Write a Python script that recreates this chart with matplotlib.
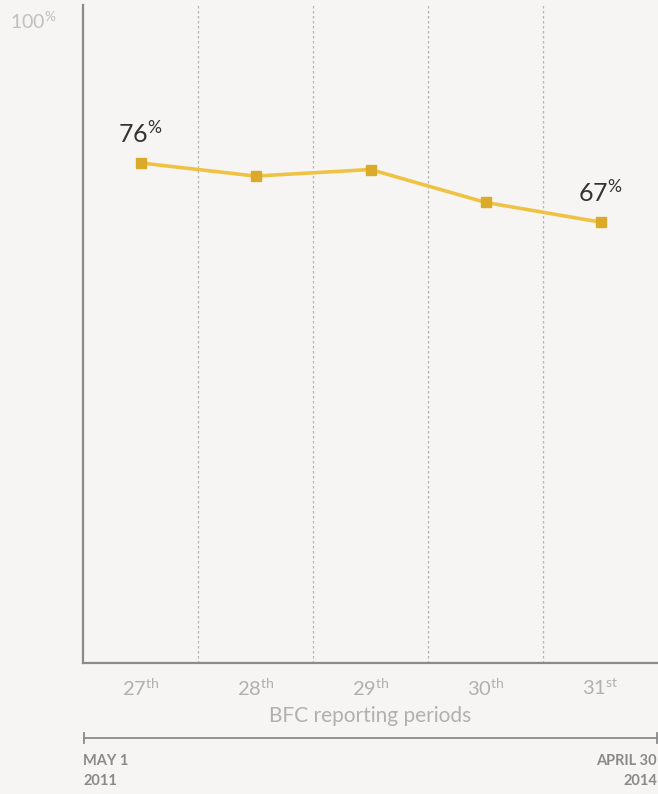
import matplotlib
matplotlib.use("Agg")
import matplotlib.pyplot as plt
from matplotlib.lines import Line2D
import matplotlib.transforms as mtransforms

plt.rcParams['font.family'] = ['Lato', 'DejaVu Sans']
plt.rcParams['mathtext.fontset'] = 'custom'
plt.rcParams['mathtext.rm'] = 'Lato'
plt.rcParams['mathtext.it'] = 'Lato'

periods = ["27", "28", "29", "30", "31"]
suffixes = ["th", "th", "th", "th", "st"]
values = [76, 74, 75, 70, 67]
label_idx = [0, 4]
start_label = "MAY 1\n2011"
end_label = "APRIL 30\n2014"

bg = "#f6f5f3"
fig = plt.figure(figsize=(6.58, 7.94), dpi=100, facecolor=bg)
ax = fig.add_axes([83/658, 131/794, 575/658, 658/794], facecolor=bg)

x = list(range(len(values)))
ax.plot(x, values, color="#f0c244", lw=2.6, zorder=3)
ax.plot(x, values, ls="none", marker="s", ms=7, color="#dcaa2a", zorder=4)

for i in label_idx:
    ax.annotate(f"{values[i]}" + r"$^{\mathrm{\%}}$", (x[i], values[i]), xytext=(0, 12),
                textcoords="offset points", ha="center", va="bottom", fontsize=18, color="#333333")

for b in [0.5, 1.5, 2.5, 3.5]:
    ax.axvline(b, color="#b5b5b5", lw=0.9, ls=(0, (2, 2)), zorder=1)

ax.set_xlim(-0.5, 4.5)
ax.set_ylim(0, 100)
ax.set_xticks([])
ax.set_yticks([])
for s in ["top", "right"]:
    ax.spines[s].set_visible(False)
ax.spines["left"].set_color("#8a8a8a")
ax.spines["left"].set_linewidth(1.6)
ax.spines["bottom"].set_color("#8a8a8a")
ax.spines["bottom"].set_linewidth(1.6)

trans = mtransforms.blended_transform_factory(ax.transData, fig.transFigure)
for i, (p, s) in enumerate(zip(periods, suffixes)):
    ax.text(x[i], 1 - 688/794, p + r"$^{\mathrm{" + s + "}}$", transform=trans,
            ha="center", va="center", fontsize=14.5, color="#b0b0b0")

fig.text(0.5 * (83 + 658) / 658, 1 - 716/794, "BFC reporting periods", ha="center", va="center",
         fontsize=15, color="#b0b0b0")
fig.text(10/658, 1 - 21/794, "100" + r"$^{\mathrm{\%}}$", ha="left", va="center", fontsize=14,
         color="#c0c0c0")

# timeline
y_tl = 1 - 738/794
fig.add_artist(Line2D([84/658, 657/658], [y_tl, y_tl], transform=fig.transFigure, color="#8a8a8a", lw=1.3))
for xx in [84/658, 657/658]:
    fig.add_artist(Line2D([xx, xx], [y_tl - 5/794, y_tl + 5/794], transform=fig.transFigure, color="#8a8a8a", lw=1.3))

fig.text(83/658, 1 - 771/794, start_label, ha="left", va="center", fontsize=10.5, fontweight="bold",
         color="#8a8a8a", linespacing=1.55)
fig.text(657/658, 1 - 771/794, end_label, ha="right", va="center", fontsize=10.5, fontweight="bold",
         color="#8a8a8a", linespacing=1.55, multialignment="right")

fig.savefig("out.png", dpi=100, facecolor=bg)
